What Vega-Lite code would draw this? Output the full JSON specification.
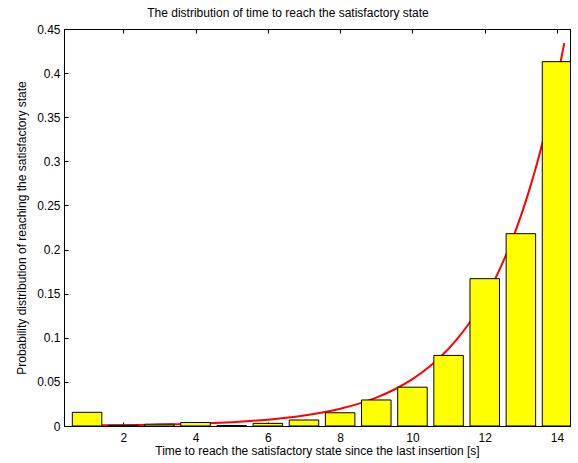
{
  "$schema": "https://vega.github.io/schema/vega-lite/v6.json",
  "autosize": {"type": "none"},
  "padding": {"left": 64, "top": 29, "right": 8, "bottom": 37},
  "width": 506,
  "height": 397,
  "background": "white",
  "title": {
    "text": "The distribution of time to reach the satisfactory state",
    "font": "Liberation Sans",
    "fontSize": 12,
    "fontWeight": "normal",
    "color": "#000000",
    "anchor": "middle",
    "dx": -29,
    "offset": 3
  },
  "config": {
    "view": {"stroke": "#000000", "strokeWidth": 1},
    "axis": {
      "labelFont": "Liberation Sans",
      "labelFontSize": 12,
      "labelColor": "#000000",
      "titleFont": "Liberation Sans",
      "titleFontSize": 12,
      "titleFontWeight": "normal",
      "titleColor": "#000000",
      "domainColor": "#000000",
      "tickColor": "#000000",
      "grid": false
    }
  },
  "datasets": {
    "bars": [
      {"t": 1, "p": 0.0155},
      {"t": 2, "p": 0.0008},
      {"t": 3, "p": 0.002},
      {"t": 4, "p": 0.004},
      {"t": 5, "p": 0.0005},
      {"t": 6, "p": 0.003},
      {"t": 7, "p": 0.0068},
      {"t": 8, "p": 0.015},
      {"t": 9, "p": 0.0295},
      {"t": 10, "p": 0.044},
      {"t": 11, "p": 0.08},
      {"t": 12, "p": 0.167},
      {"t": 13, "p": 0.218},
      {"t": 14, "p": 0.413}
    ],
    "curve": [
      {"t": 1, "p": 0.00059},
      {"t": 1.5, "p": 0.00076},
      {"t": 2, "p": 0.00097},
      {"t": 2.5, "p": 0.00125},
      {"t": 3, "p": 0.0016},
      {"t": 3.5, "p": 0.00206},
      {"t": 4, "p": 0.00265},
      {"t": 4.5, "p": 0.0034},
      {"t": 5, "p": 0.00436},
      {"t": 5.5, "p": 0.0056},
      {"t": 6, "p": 0.00719},
      {"t": 6.5, "p": 0.00923},
      {"t": 7, "p": 0.01186},
      {"t": 7.5, "p": 0.01522},
      {"t": 8, "p": 0.01955},
      {"t": 8.5, "p": 0.0251},
      {"t": 9, "p": 0.03223},
      {"t": 9.5, "p": 0.04138},
      {"t": 10, "p": 0.05314},
      {"t": 10.5, "p": 0.06823},
      {"t": 11, "p": 0.0876},
      {"t": 11.25, "p": 0.0993},
      {"t": 11.5, "p": 0.1125},
      {"t": 11.75, "p": 0.1275},
      {"t": 12, "p": 0.1444},
      {"t": 12.25, "p": 0.1636},
      {"t": 12.5, "p": 0.1855},
      {"t": 12.75, "p": 0.2101},
      {"t": 13, "p": 0.2381},
      {"t": 13.25, "p": 0.2699},
      {"t": 13.5, "p": 0.3058},
      {"t": 13.75, "p": 0.3465},
      {"t": 14, "p": 0.3926},
      {"t": 14.2, "p": 0.434}
    ]
  },
  "layer": [
    {
      "encoding": {
        "x": {
          "field": "t",
          "type": "quantitative",
          "scale": {"domain": [0.5, 14.22], "nice": false, "zero": false},
          "axis": {
            "values": [2, 4, 6, 8, 10, 12, 14],
            "title": "Time to reach the satisfactory state since the last insertion [s]",
            "tickSize": -4,
            "labelPadding": 10,
            "titlePadding": 2
          }
        },
        "y": {
          "field": "p",
          "type": "quantitative",
          "scale": {"domain": [0, 0.45], "nice": false},
          "axis": {
            "values": [0, 0.05, 0.1, 0.15, 0.2, 0.25, 0.3, 0.35, 0.4, 0.45],
            "format": "~g",
            "title": "Probability distribution of reaching the satisfactory state",
            "tickSize": -4,
            "labelPadding": 8,
            "titlePadding": 8
          }
        }
      },
      "layer": [
        {
          "data": {"name": "curve"},
          "mark": {"type": "line", "color": "#ff0000", "strokeWidth": 2, "interpolate": "monotone", "clip": true}
        },
        {
          "data": {"name": "bars"},
          "mark": {"type": "bar", "size": 29.5, "color": "#ffff00", "stroke": "#000000", "strokeWidth": 1, "clip": true}
        }
      ]
    },
    {
      "data": {"name": "bars"},
      "mark": {"type": "rule", "opacity": 0},
      "encoding": {
        "x": {"field": "t", "type": "quantitative", "axis": {"orient": "top", "values": [2, 4, 6, 8, 10, 12, 14], "labels": false, "title": null, "tickSize": -4}},
        "y": {"field": "p", "type": "quantitative", "axis": {"orient": "right", "values": [0, 0.05, 0.1, 0.15, 0.2, 0.25, 0.3, 0.35, 0.4, 0.45], "labels": false, "title": null, "tickSize": -4}}
      }
    }
  ],
  "resolve": {"axis": {"x": "independent", "y": "independent"}}
}
